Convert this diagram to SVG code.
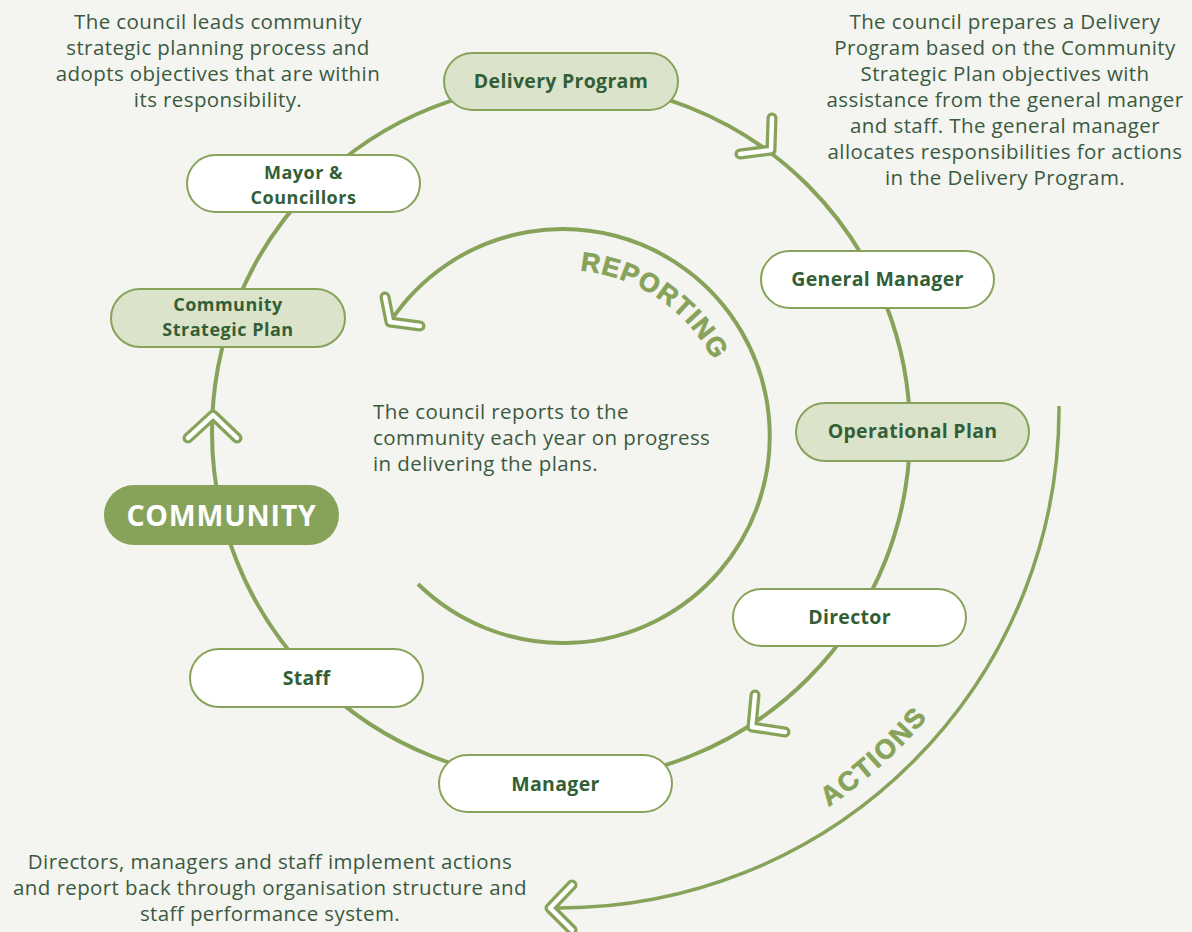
<svg xmlns="http://www.w3.org/2000/svg" width="1192" height="932" viewBox="0 0 1192 932">
<style>
.bg{fill:#f4f4f0}
.ring{fill:none;stroke:#87a35a;stroke-width:4}
.chevO{fill:none;stroke:#87a35a;stroke-width:11;stroke-linecap:round;stroke-linejoin:round}
.chevI{fill:none;stroke:#ffffff;stroke-width:4.5;stroke-linecap:round;stroke-linejoin:round}
.nodeW{fill:#ffffff;stroke:#87a35a;stroke-width:2}
.nodeL{fill:#dbe3cb;stroke:#87a35a;stroke-width:2}
.nodeD{fill:#87a35a}
.lbl{font-family:"Open Sans","Liberation Sans",sans-serif;font-weight:bold;font-size:19.5px;letter-spacing:0.3px;fill:#335f36;text-anchor:middle}
.lbl2{font-size:18px;letter-spacing:0.5px}
.desc{font-family:"Open Sans","Liberation Sans",sans-serif;font-size:20.5px;letter-spacing:0.4px;fill:#3a5a40}
.mid{text-anchor:middle}
.arcTxt{font-family:"Liberation Sans","Open Sans",sans-serif;font-weight:bold;fill:#87a35a;stroke:#87a35a;stroke-width:0.7px}
</style>
<defs>
<path id="repPath" d="M 565,270 A 167 167 0 0 1 732,437"/>
<path id="actPath" d="M 828.4,806.9 A 480 480 0 0 0 1040,409"/>
</defs>
<rect class="bg" x="0" y="0" width="1192" height="932"/>

<g id="connectors">
  <circle class="ring" cx="561" cy="432" r="349"/>
  <path class="ring" d="M 418,584 A 207 207 0 1 0 390,322"/>
  <path class="ring" d="M 1059,406 A 499 499 0 0 1 560,908 L 551,908" style="stroke-width:3.5"/>
  <polyline class="chevO" points="772,118 771,150 740,154"/>
  <polyline class="chevI" points="772,118 771,150 740,154"/>
  <polyline class="chevO" points="755,695 752,727 785,732"/>
  <polyline class="chevI" points="755,695 752,727 785,732"/>
  <polyline class="chevO" points="188,438 213,415 237,438"/>
  <polyline class="chevI" points="188,438 213,415 237,438"/>
  <polyline class="chevO" points="385,297 390,322 420,326"/>
  <polyline class="chevI" points="385,297 390,322 420,326"/>
  <polyline class="chevO" points="572,885 550,908 572,930"/>
  <polyline class="chevI" points="572,885 550,908 572,930"/>
  <text class="arcTxt" font-size="26.5" letter-spacing="1.2"><textPath href="#repPath" startOffset="15">REPORTING</textPath></text>
  <text class="arcTxt" font-size="27" letter-spacing="2"><textPath href="#actPath" startOffset="0">ACTIONS</textPath></text>
</g>

<g id="node-delivery-program">
  <rect class="nodeL" x="444" y="53" width="234" height="57" rx="28.5"/>
  <text class="lbl" x="561" y="88">Delivery Program</text>
</g>
<g id="node-mayor">
  <rect class="nodeW" x="187" y="155" width="233" height="57" rx="28.5"/>
  <text class="lbl lbl2" x="303.5" y="179">Mayor &amp;</text>
  <text class="lbl lbl2" x="303.5" y="204">Councillors</text>
</g>
<g id="node-csp">
  <rect class="nodeL" x="111" y="289" width="234" height="58" rx="29"/>
  <text class="lbl lbl2" x="228" y="311">Community</text>
  <text class="lbl lbl2" x="228" y="336">Strategic Plan</text>
</g>
<g id="node-community">
  <rect class="nodeD" x="104" y="485" width="235" height="60" rx="30"/>
  <text x="221.5" y="526" text-anchor="middle" font-family="'Open Sans','Liberation Sans',sans-serif" font-weight="bold" font-size="28.5" fill="#ffffff" letter-spacing="0.8">COMMUNITY</text>
</g>
<g id="node-staff">
  <rect class="nodeW" x="190" y="649" width="233" height="58" rx="29"/>
  <text class="lbl" x="306.5" y="685">Staff</text>
</g>
<g id="node-manager">
  <rect class="nodeW" x="439" y="755" width="233" height="57" rx="28.5"/>
  <text class="lbl" x="555.5" y="791">Manager</text>
</g>
<g id="node-director">
  <rect class="nodeW" x="733" y="589" width="233" height="57" rx="28.5"/>
  <text class="lbl" x="849.5" y="624">Director</text>
</g>
<g id="node-operational-plan">
  <rect class="nodeL" x="796" y="403" width="233" height="58" rx="29"/>
  <text class="lbl" x="912.5" y="438">Operational Plan</text>
</g>
<g id="node-general-manager">
  <rect class="nodeW" x="761" y="251" width="233" height="57" rx="28.5"/>
  <text class="lbl" x="877.5" y="286">General Manager</text>
</g>

<g id="descriptions">
  <text class="desc mid" x="218" y="29">The council leads community</text>
  <text class="desc mid" x="218" y="55">strategic planning process and</text>
  <text class="desc mid" x="218" y="81">adopts objectives that are within</text>
  <text class="desc mid" x="218" y="107">its responsibility.</text>

  <text class="desc mid" x="1005" y="29">The council prepares a Delivery</text>
  <text class="desc mid" x="1005" y="55">Program based on the Community</text>
  <text class="desc mid" x="1005" y="81">Strategic Plan objectives with</text>
  <text class="desc mid" x="1005" y="107">assistance from the general manger</text>
  <text class="desc mid" x="1005" y="133">and staff. The general manager</text>
  <text class="desc mid" x="1005" y="159">allocates responsibilities for actions</text>
  <text class="desc mid" x="1005" y="185">in the Delivery Program.</text>

  <text class="desc" x="373" y="419">The council reports to the</text>
  <text class="desc" x="373" y="445">community each year on progress</text>
  <text class="desc" x="373" y="471">in delivering the plans.</text>

  <text class="desc mid" x="270" y="869">Directors, managers and staff implement actions</text>
  <text class="desc mid" x="270" y="895">and report back through organisation structure and</text>
  <text class="desc mid" x="270" y="921">staff performance system.</text>
</g>
</svg>
